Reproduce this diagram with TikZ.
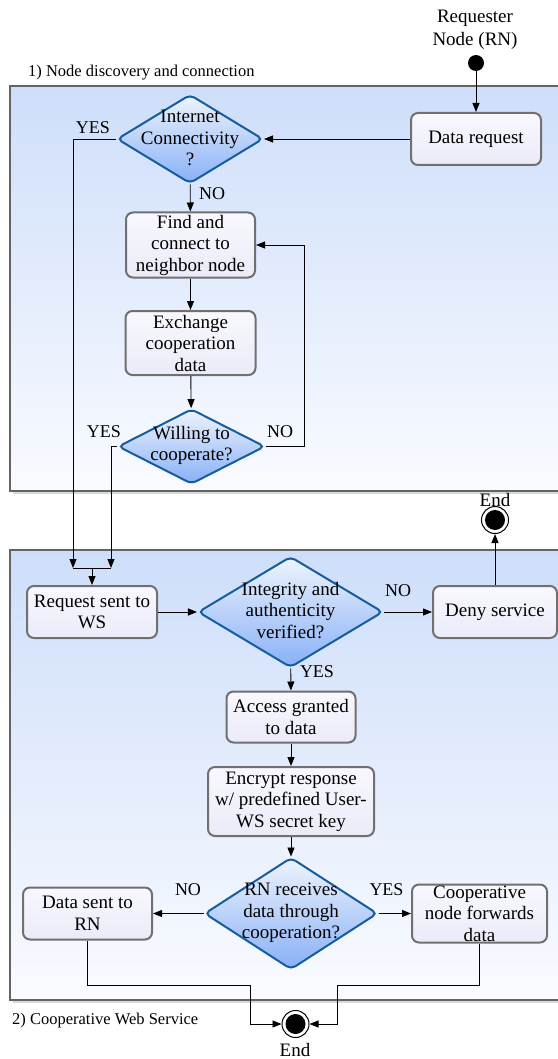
\documentclass[tikz,border=0pt]{standalone}
\usepackage{fontspec}
\setmainfont{Liberation Serif}
\newfontfamily\flowfont{Liberation Serif}
\usetikzlibrary{shapes.geometric,arrows.meta}

\definecolor{panelTop}{RGB}{206,222,250}
\definecolor{panelBot}{RGB}{249,251,255}
\definecolor{panelLine}{RGB}{100,100,100}
\definecolor{boxTop}{RGB}{248,248,253}
\definecolor{boxBot}{RGB}{234,235,248}
\definecolor{boxLine}{RGB}{112,112,112}
\definecolor{decTop}{RGB}{238,244,253}
\definecolor{decBot}{RGB}{136,176,246}
\definecolor{decLine}{RGB}{22,92,158}

\begin{document}
\begin{tikzpicture}[x=1pt,y=-1pt,
  every node/.style={font=\flowfont\fontsize{19}{21.5}\selectfont},
  stepbox/.style={draw=boxLine, line width=2pt, rounded corners=7pt,
    top color=boxTop, bottom color=boxBot, align=center, inner sep=0pt},
  decision/.style={diamond, draw=decLine, line width=2pt, rounded corners=5pt,
    top color=decTop, bottom color=decBot, inner sep=0pt},
  dtext/.style={align=center, inner sep=0pt},
  tag/.style={font=\flowfont\fontsize{18}{20}\selectfont, inner sep=0pt},
  caption/.style={font=\flowfont\fontsize{16.5}{19}\selectfont, inner sep=0pt, anchor=west},
  flow/.style={draw, line width=0.9pt, -{Triangle[length=9pt,width=7pt]}},
  wire/.style={draw, line width=0.9pt},
  panel/.style={draw=panelLine, line width=1.2pt, top color=panelTop, bottom color=panelBot},
  finish/.style={circle, draw, line width=1pt, fill=white, minimum size=27pt, inner sep=0pt},
  ]
\useasboundingbox (0,0) rectangle (557,1059);

% ---- swimlane panels ----
\fill[gray!30] (13,89) rectangle (570,494);
\path[panel] (10,86) rectangle (570,491);
\fill[gray!30] (13,553) rectangle (570,1003);
\path[panel] (10,550) rectangle (570,1000);
\node[caption] (cap1) at (28,73) {1) Node discovery and connection};
\node[caption] (cap2) at (12,1021) {2) Cooperative Web Service};

% ---- start ----
\node[align=center, font=\flowfont\fontsize{19}{23}\selectfont, inner sep=0pt] (rn) at (475,30) {Requester\\Node (RN)};
\node[circle, fill=black, minimum size=16pt, inner sep=0pt] (start) at (476,63) {};

% ---- phase 1: discovery ----
\node[stepbox, minimum width=130pt, minimum height=52pt] (dr) at (476,139) {Data request};
\node[decision, minimum width=146pt, minimum height=89pt] (d1) at (190,139) {};
\node[dtext] (d1t) at (190,138) {Internet\\Connectivity\\?};
\node[stepbox, minimum width=129pt, minimum height=65pt] (f) at (190.5,245) {Find and\\connect to\\neighbor node};
\node[stepbox, minimum width=130pt, minimum height=64pt] (ex) at (190.5,343) {Exchange\\cooperation\\data};
\node[decision, minimum width=147pt, minimum height=75pt] (d2) at (191.5,446.5) {};
\node[dtext] (d2t) at (191.5,445.5) {Willing to\\cooperate?};

% ---- phase 2: web service ----
\node[stepbox, minimum width=130pt, minimum height=52pt] (rq) at (92,612) {Request sent to\\WS};
\node[decision, minimum width=185pt, minimum height=111pt] (d3) at (290.5,612) {};
\node[dtext] (d3t) at (290.5,610.5) {Integrity and\\authenticity\\verified?};
\node[stepbox, minimum width=124pt, minimum height=52pt] (dn) at (495,612) {Deny service};
\node[finish] (end1) at (495,520) {};
\fill[black] (end1.center) circle (10pt);
\node (end1t) at (495,500) {End};
\node[stepbox, minimum width=129pt, minimum height=51pt] (ac) at (291,717) {Access granted\\to data};
\node[stepbox, minimum width=166pt, minimum height=69pt] (en) at (291,801.5) {Encrypt response\\w/ predefined User-\\WS secret key};
\node[decision, minimum width=173pt, minimum height=112pt] (d4) at (291,913.5) {};
\node[dtext] (d4t) at (291,913) {RN receives\\data through\\cooperation?};
\node[stepbox, minimum width=129pt, minimum height=52pt] (ds) at (87.5,913.5) {Data sent to\\RN};
\node[stepbox, minimum width=135pt, minimum height=58pt] (cp) at (479.5,913.5) {Cooperative\\node forwards\\data};
\node[finish] (end2) at (295.5,1024) {};
\fill[black] (end2.center) circle (10pt);
\node (end2t) at (295,1050) {End};

% ---- branch labels ----
\node[tag] (yesA) at (93,128) {YES};
\node[tag] (noA) at (212,194) {NO};
\node[tag] (yesB) at (104,432) {YES};
\node[tag] (noB) at (280,432) {NO};
\node[tag] (noC) at (398,591) {NO};
\node[tag] (yesC) at (317,672) {YES};
\node[tag] (noD) at (188,890) {NO};
\node[tag] (yesD) at (386.5,890) {YES};

% ---- junction and bend points ----
\coordinate (j1) at (73,568);
\coordinate (j2) at (111,568);
\coordinate (jm) at (92,568);
\coordinate (b1) at (250,985);
\coordinate (b2) at (337,985);

% ---- connectors ----
\draw[flow] (start) -- (dr.north);
\draw[flow] (dr) -- (d1);
\draw[flow] (d1) -- (f);
\draw[flow] (d1.west) -| (j1);
\draw[flow] (f) -- (ex);
\draw[flow] (ex) -- (d2);
\draw[flow] (d2.west) -| (j2);
\draw[flow] (d2.east) -- ++(38,0) |- (f.east);
\draw[wire] (j1) -- (j2);
\draw[flow] (jm) -- (rq.north);
\draw[flow] (rq) -- (d3);
\draw[flow] (d3) -- (dn);
\draw[flow] (dn) -- (end1);
\draw[flow] (d3) -- (ac);
\draw[flow] (ac) -- (en);
\draw[flow] (en) -- (d4);
\draw[flow] (d4) -- (ds);
\draw[flow] (d4) -- (cp);
\draw[flow] (ds.south) |- (b1) |- (end2.west);
\draw[flow] (cp.south) |- (b2) |- (end2.east);
\end{tikzpicture}
\end{document}
